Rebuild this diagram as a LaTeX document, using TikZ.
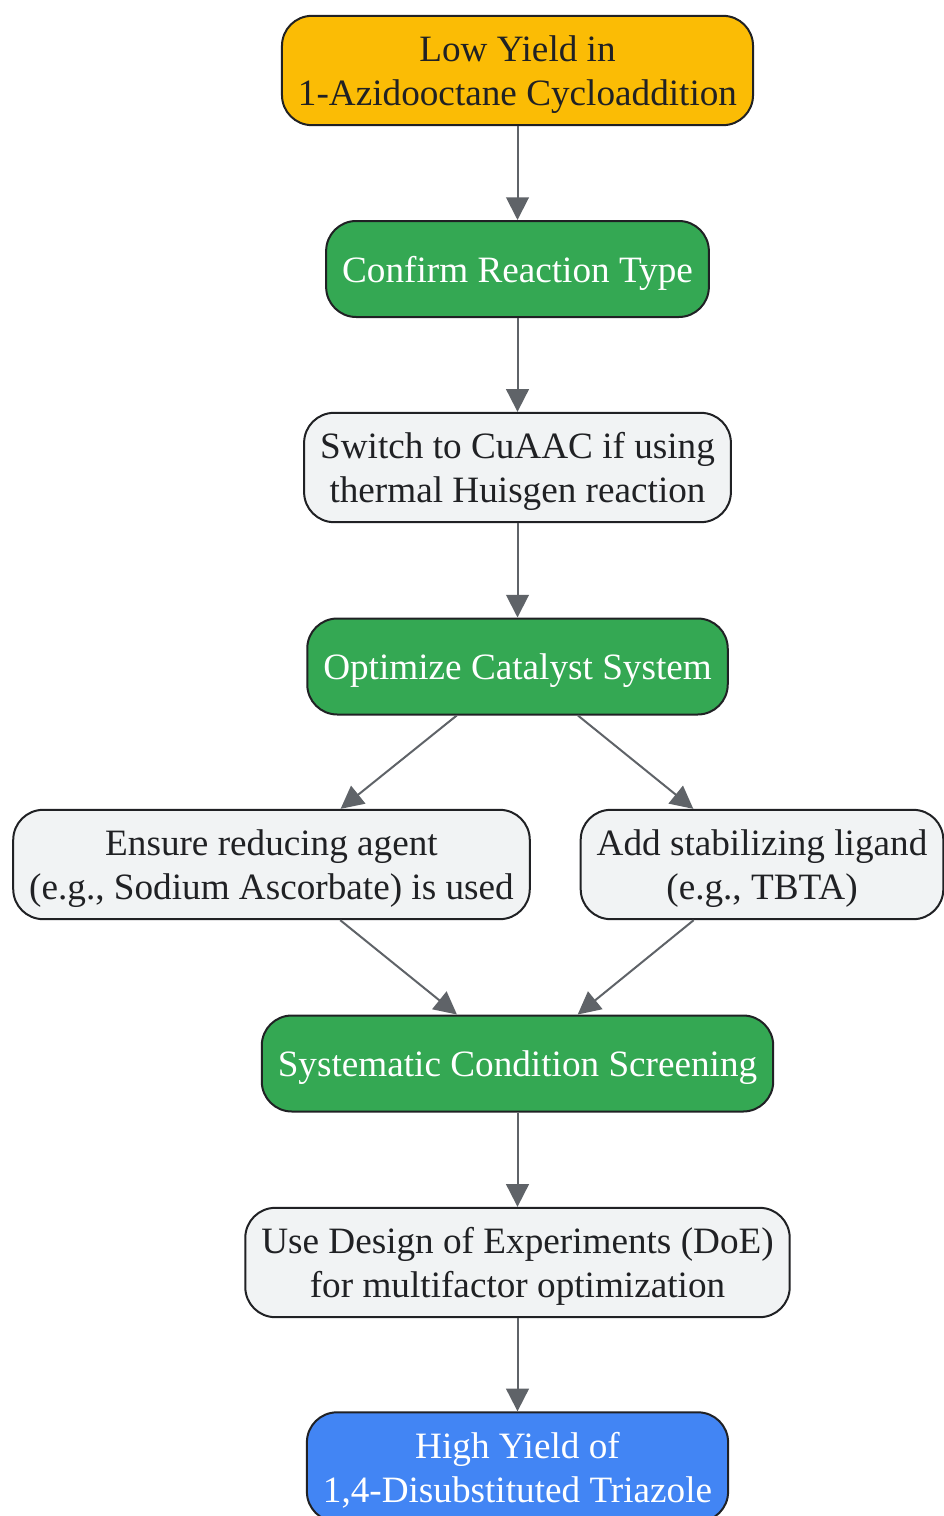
\documentclass[tikz,border=0pt]{standalone}
\usepackage{fontspec}
\setmainfont{Liberation Serif}
\usetikzlibrary{arrows.meta}
\definecolor{startfill}{HTML}{FBBC05}
\definecolor{stepfill}{HTML}{34A853}
\definecolor{tipfill}{HTML}{F1F3F4}
\definecolor{endfill}{HTML}{4285F4}
\definecolor{linegray}{HTML}{5F6368}
\definecolor{inkdark}{HTML}{202124}
\begin{document}
\begin{tikzpicture}[
    x=0.75pt, y=-0.75pt,
    box/.style={rectangle, draw=inkdark, line width=1.5pt, rounded corners=22.5pt, align=center, inner xsep=12pt, text depth=0pt, font=\fontsize{27.9}{33}\selectfont},
    single/.style={box, minimum height=72pt},
    double/.style={box, minimum height=82pt},
    startbox/.style={double, fill=startfill, text=inkdark},
    stepbox/.style={single, fill=stepfill, text=white},
    tipbox/.style={double, fill=tipfill, text=inkdark},
    endbox/.style={double, fill=endfill, text=white},
    arrow/.style={-{Triangle[length=17pt, width=17pt]}, draw=linegray, fill=linegray, line width=1.5pt}
]
\useasboundingbox (0,0) rectangle (943,1516);

% Etapes principales
\node[startbox] (lowyield) at (517.5,70.5) {Low Yield in\\1-Azidooctane Cycloaddition};
\node[stepbox] (confirm) at (517.5,269) {Confirm Reaction Type};
\node[tipbox] (switch) at (517.5,467.5) {Switch to CuAAC if using\\thermal Huisgen reaction};
\node[stepbox] (catalyst) at (517.5,666.5) {Optimize Catalyst System};
\node[tipbox] (reducing) at (271.5,864.5) {Ensure reducing agent\\(e.g., Sodium Ascorbate) is used};
\node[tipbox] (ligand) at (762,864.5) {Add stabilizing ligand\\(e.g., TBTA)};
\node[stepbox] (screening) at (517.5,1063.5) {Systematic Condition Screening};
\node[tipbox] (doe) at (517.5,1262.5) {Use Design of Experiments (DoE)\\for multifactor optimization};
\node[endbox] (highyield) at (517.5,1467) {High Yield of\\1,4-Disubstituted Triazole};

% Fleches
\draw[arrow] (lowyield) -- (confirm);
\draw[arrow] (confirm) -- (switch);
\draw[arrow] (switch) -- (catalyst);
\draw[arrow] (catalyst) -- (reducing);
\draw[arrow] (catalyst) -- (ligand);
\draw[arrow] (reducing) -- (screening);
\draw[arrow] (ligand) -- (screening);
\draw[arrow] (screening) -- (doe);
\draw[arrow] (doe) -- (highyield);

\end{tikzpicture}
\end{document}
